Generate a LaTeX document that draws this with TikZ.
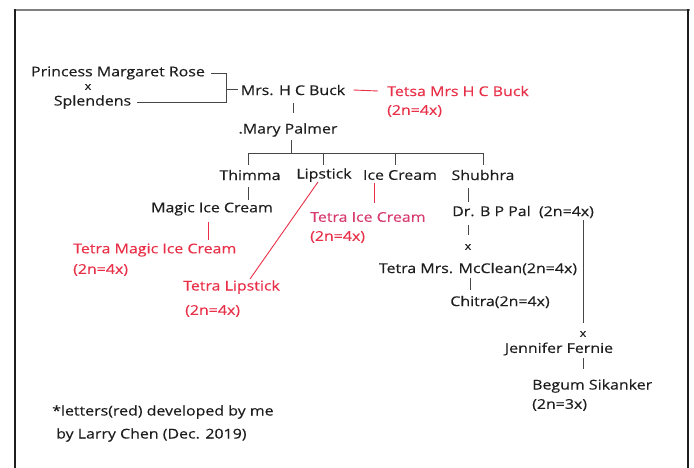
\documentclass[tikz,border=0pt]{standalone}
\usepackage{fontspec}
\setmainfont{Open Sans}[FakeStretch=1.18,FakeBold=0.35]
\definecolor{ink}{RGB}{30,30,30}
\definecolor{lin}{RGB}{70,70,70}
\definecolor{rd}{RGB}{232,48,72}
\definecolor{pk}{RGB}{215,60,110}
\begin{document}
\begin{tikzpicture}[x=1pt,y=-1pt,
  lbl/.style={inner sep=0pt,text=ink,font=\fontsize{13.5}{15}\selectfont},
  rlbl/.style={inner sep=0pt,text=rd,font=\fontsize{13.5}{15}\selectfont},
  crs/.style={inner sep=0pt,text=ink,font=\fontsize{10.5}{11}\selectfont},
  conn/.style={draw=lin,line width=0.9pt},
  rconn/.style={draw=rd,line width=0.9pt}]
\useasboundingbox (0,0) rectangle (694,468);
% frame
\draw[draw=gray,line width=1.3pt] (14,10) -- (690,10);
\draw[draw=ink,line width=1.8pt] (15,9.5) -- (15,468);
\draw[draw=ink,line width=1.8pt] (688,9.5) -- (688,468);
% nodes
\node[lbl] (pmr) at (118,73) {Princess Margaret Rose};
\node[crs] (x1) at (88,87) {x};
\node[lbl] (spl) at (92.5,102) {Splendens};
\node[lbl] (buck) at (293,90) {Mrs. H C Buck};
\node[rlbl,anchor=west] (tbuck) at (387,91) {Tetsa Mrs H C Buck};
\node[rlbl,anchor=west] (tbuck2) at (387,111) {(2n=4x)};
\node[lbl] (mary) at (288,130) {.Mary Palmer};
\node[lbl] (thimma) at (250,175) {Thimma};
\node[lbl] (lip) at (324,175) {Lipstick};
\node[lbl] (ice) at (400,175) {Ice Cream};
\node[lbl] (shub) at (483,175) {Shubhra};
\node[lbl] (magic) at (212,209) {Magic Ice Cream};
\node[rlbl,anchor=west] (tmagic) at (73,250) {Tetra Magic Ice Cream};
\node[rlbl,anchor=west] (tmagic2) at (73,270) {(2n=4x)};
\node[rlbl,text=pk,anchor=west] (tice) at (310,217) {Tetra Ice Cream};
\node[rlbl,anchor=west] (tice2) at (310,237) {(2n=4x)};
\node[rlbl,anchor=west] (tlip) at (183,287) {Tetra Lipstick};
\node[rlbl,anchor=west] (tlip2) at (185,311) {(2n=4x)};
\node[lbl,anchor=west] (pal) at (452,212) {Dr. B P Pal\ \ (2n=4x)};
\node[crs] (x2) at (468,247) {x};
\node[lbl] (mcc) at (478,269) {Tetra Mrs. McClean(2n=4x)};
\node[lbl] (chitra) at (500,302) {Chitra(2n=4x)};
\node[crs] (x3) at (583,334) {x};
\node[lbl] (jen) at (559,349) {Jennifer Fernie};
\node[lbl,anchor=west] (begum) at (532,386) {Begum Sikanker};
\node[lbl,anchor=west] (begum2) at (532,405) {(2n=3x)};
\node[lbl,anchor=west] (note) at (52,412) {*letters(red) developed by me};
\node[lbl,anchor=west] (by) at (56,435) {by Larry Chen (Dec. 2019)};
% coordinates
\coordinate (j1) at (226,73);
\coordinate (j2) at (226,102);
\coordinate (j3) at (226,89);
\coordinate (bar) at (291,153);
% cross bracket
\draw[conn] ([xshift=6pt]pmr.east) -- (j1) -- (j2) -- ([xshift=6pt]spl.east);
\draw[conn] (j3) -- ([xshift=-3pt]buck.west |- j3);
\draw[rconn] ([xshift=8pt]buck.east) -- ([xshift=-9pt]tbuck.west);
\draw[conn] (293,103) -- (293,113);
\draw[conn] (291,140) -- (bar);
\draw[conn] (248,165) -- (248,153) -- (483,153) -- (483,165);
\draw[conn] (323,153) -- (323,165);
\draw[conn] (395,153) -- (395,165);
\draw[conn] (248,187) -- (248,200);
\draw[rconn] (208,222) -- (208,240);
\draw[rconn] (374,183) -- (374,203);
\draw[rconn] (318,182) -- (250,279);
\draw[conn] (468,188) -- (468,202);
\draw[conn] (468,225) -- (468,235);
\draw[conn] (470,278) -- (470,290);
\draw[conn] (583,220) -- (583,323);
\draw[conn] (583,358) -- (583,369);
\end{tikzpicture}
\end{document}
